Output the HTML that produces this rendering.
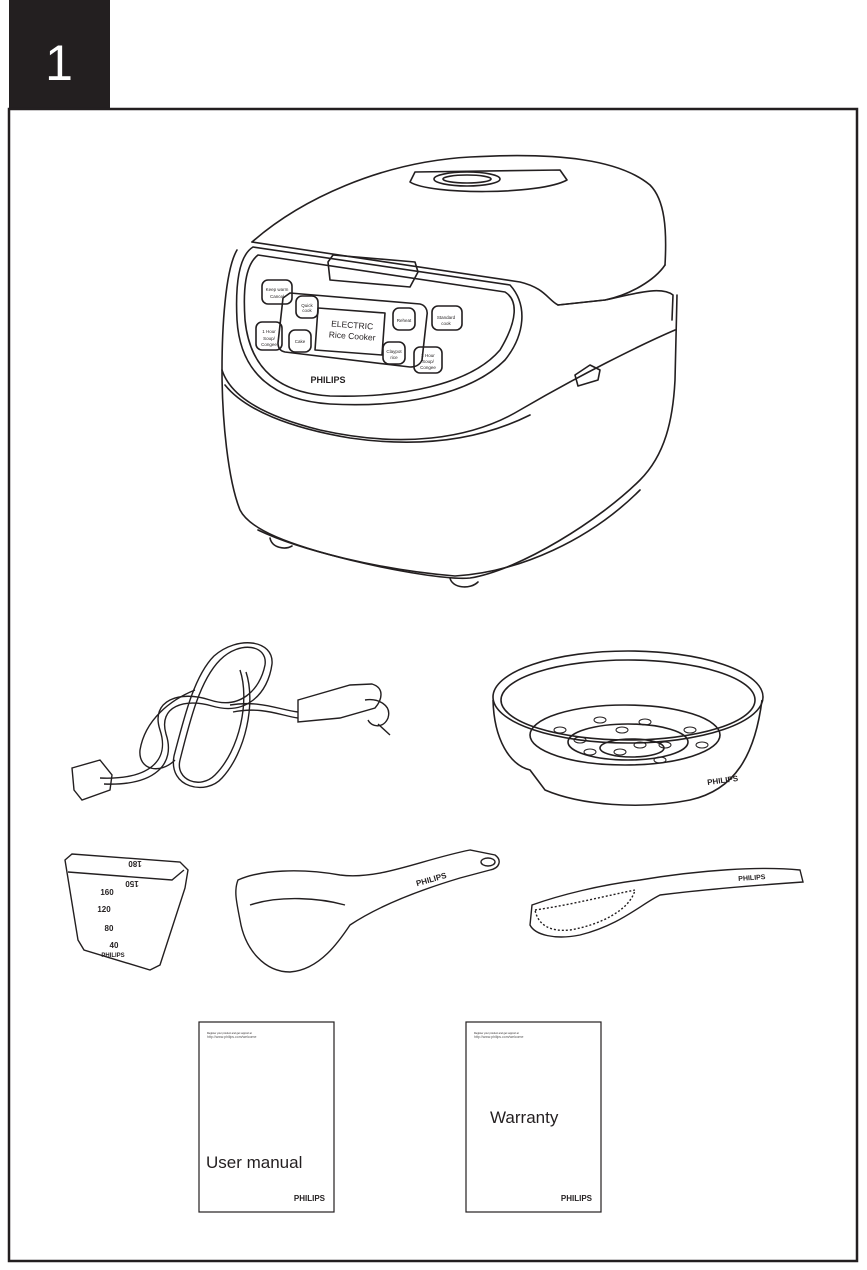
<!DOCTYPE html>
<html><head><meta charset="utf-8"><style>
html,body{margin:0;padding:0;background:#fff;}
body{width:867px;height:1270px;position:relative;overflow:hidden;font-family:"Liberation Sans",sans-serif;}
</style></head><body>
<svg width="867" height="1270" viewBox="0 0 867 1270" xmlns="http://www.w3.org/2000/svg" style="position:absolute;left:0;top:0">
<rect x="9" y="0" width="101" height="108" fill="#231f20"/>
<text x="59" y="80" font-size="50" fill="#fff" text-anchor="middle" font-family="Liberation Sans">1</text>
<rect x="9" y="109" width="848" height="1152" fill="none" stroke="#231f20" stroke-width="2.5"/>

<g fill="none" stroke="#231f20" stroke-width="1.6" stroke-linejoin="round" stroke-linecap="round">
<!-- cooker lid -->
<path d="M252,242 C300,200 380,162 470,157 C560,152 620,160 650,185 C665,200 667,230 665,265"/>
<path d="M252,242 L520,282 C545,288 548,300 558,305 L605,300 C630,295 655,280 665,265"/>
<path d="M410,182 L415,172 L560,170 L567,180 C540,195 430,195 410,182 Z"/>
<ellipse cx="467" cy="179" rx="33" ry="7"/>
<ellipse cx="467" cy="179" rx="24" ry="4"/>
<path d="M558,305 L605,300 C630,295 660,285 673,295 L672,320"/>
<!-- front panel -->
<path d="M253,247 C240,255 235,280 237,320 C240,370 270,400 330,404 C400,408 470,395 505,360 C525,335 528,305 510,285 L253,247"/>
<path d="M258,255 L505,292 C518,300 518,320 500,350 C470,385 400,398 330,396 C280,393 250,370 245,320 C243,290 245,265 258,255 Z"/>
<path d="M328,262 L333,255 L415,262 L418,272 L410,287 L330,280 Z"/>
<rect x="262" y="280" width="30" height="24" rx="6"/>
<rect x="256" y="322" width="26" height="28" rx="6"/>
<path d="M290,293 L420,304 C425,305 428,310 427,315 L422,360 C420,365 415,367 410,367 L285,352 C280,351 278,348 278,343 L283,298 Z"/>
<rect x="296" y="296" width="22" height="22" rx="6"/>
<rect x="289" y="330" width="22" height="22" rx="6"/>
<path d="M318,308 L385,313 L382,355 L315,350 Z"/>
<rect x="393" y="308" width="22" height="22" rx="6"/>
<rect x="383" y="342" width="22" height="22" rx="6"/>
<rect x="432" y="306" width="30" height="24" rx="6"/>
<rect x="414" y="347" width="28" height="26" rx="6"/>
<!-- body -->
<path d="M237,250 C225,270 222,330 222,370 C222,420 228,480 240,510 C250,530 290,545 350,560 C400,572 450,580 470,578 C520,570 600,520 640,480 C665,455 673,420 675,380 L677,295"/>
<path d="M222,370 C230,395 260,415 320,430 C400,448 470,440 520,410 C580,375 640,345 675,330"/>
<path d="M225,385 C245,410 290,428 350,438 C420,448 480,440 530,415"/>
<path d="M575,375 L590,365 L600,370 L598,380 L578,386 Z"/>
<path d="M270,538 C272,548 285,550 292,546"/>
<path d="M450,578 C452,588 470,590 478,582"/>
<path d="M258,530 C300,550 380,570 455,576 C520,572 590,540 640,490"/>
</g>
<g font-family="Liberation Sans" fill="#231f20" text-anchor="middle">
<text x="277" y="291" font-size="4.5">Keep warm</text><text x="277" y="298" font-size="4.5">Cancel</text>
<text x="269" y="333" font-size="4.5">1 Hour</text><text x="269" y="340" font-size="4.5">Soup/</text><text x="269" y="346" font-size="4.5">Congee</text>
<text x="307" y="307" font-size="4.5">Quick</text><text x="307" y="312" font-size="4.5">cook</text>
<text x="300" y="343" font-size="4.5">Cake</text>
<text x="352" y="328" font-size="8.5" transform="rotate(4 352 328)">ELECTRIC</text>
<text x="352" y="339" font-size="8.5" transform="rotate(4 352 339)">Rice Cooker</text>
<text x="404" y="322" font-size="4.5">Reheat</text>
<text x="446" y="319" font-size="4.5">Standard</text><text x="446" y="325" font-size="4.5">cook</text>
<text x="394" y="353" font-size="4.5">Claypot</text><text x="394" y="359" font-size="4.5">rice</text>
<text x="428" y="357" font-size="4.5">2 Hour</text><text x="428" y="363" font-size="4.5">Soup/</text><text x="428" y="369" font-size="4.5">Congee</text>
<text x="328" y="383" font-size="9" font-weight="bold">PHILIPS</text>
</g>

<!-- cord -->
<g fill="none" stroke="#231f20" stroke-width="1.4">
<path d="M100,778 C150,780 170,760 160,730 C150,700 180,690 210,700 C240,710 260,690 265,665 C268,645 240,640 220,660 C200,680 190,720 180,760 C175,780 200,790 215,775 C240,750 250,700 240,670"/>
<path d="M104,784 C155,786 176,764 166,734 C158,706 185,698 212,706 C246,716 268,694 272,664 C274,640 238,635 214,656 C194,676 184,718 174,756 C168,788 206,796 222,778 C246,752 256,702 246,672"/>
<path d="M195,690 C170,700 145,720 140,750 C138,770 160,775 175,760"/>
<path d="M230,705 C260,700 280,710 298,712"/>
<path d="M233,712 C262,706 282,716 298,718"/>
<path d="M298,700 L350,685 L372,684 C385,688 382,700 375,708 L340,718 L298,722 Z"/>
<path d="M365,700 C378,698 392,705 388,718 C384,728 372,728 368,720"/>
<path d="M378,724 L390,735"/>
<path d="M72,768 L100,760 L112,775 L110,790 L82,800 L74,790 Z"/>
</g>
<!-- steamer -->
<g fill="none" stroke="#231f20" stroke-width="1.6">
<ellipse cx="628" cy="697" rx="135" ry="46"/>
<ellipse cx="628" cy="700" rx="127" ry="40"/>
<path d="M493,700 C494,740 510,765 530,770 L545,790 C580,805 640,810 690,800 C735,790 755,755 762,700"/>
<ellipse cx="625" cy="735" rx="95" ry="30"/>
<ellipse cx="628" cy="742" rx="60" ry="18"/>
<ellipse cx="632" cy="748" rx="32" ry="9"/>
</g>
<g fill="none" stroke="#231f20" stroke-width="1">
<ellipse cx="560" cy="730" rx="6" ry="3"/><ellipse cx="580" cy="740" rx="6" ry="3"/><ellipse cx="600" cy="720" rx="6" ry="3"/>
<ellipse cx="622" cy="730" rx="6" ry="3"/><ellipse cx="645" cy="722" rx="6" ry="3"/><ellipse cx="665" cy="745" rx="6" ry="3"/>
<ellipse cx="690" cy="730" rx="6" ry="3"/><ellipse cx="702" cy="745" rx="6" ry="3"/><ellipse cx="620" cy="752" rx="6" ry="3"/>
<ellipse cx="640" cy="745" rx="6" ry="3"/><ellipse cx="660" cy="760" rx="6" ry="3"/><ellipse cx="590" cy="752" rx="6" ry="3"/>
</g>
<text x="723" y="783" font-size="8" font-weight="bold" fill="#231f20" transform="rotate(-8 723 783)" text-anchor="middle">PHILIPS</text>

<!-- measuring cup -->
<g fill="none" stroke="#231f20" stroke-width="1.4">
<path d="M65,860 L72,854 L180,862 L188,870 L185,888 L160,965 L150,970 L84,950 L78,940 Z"/>
<path d="M68,872 L172,880 L184,870"/>
</g>
<g fill="#231f20" font-size="8" font-weight="bold" text-anchor="middle">
<text x="135" y="867" transform="rotate(180 135 864)">180</text>
<text x="132" y="887" transform="rotate(180 132 884)">150</text>
<text x="107" y="895">160</text><text x="104" y="912">120</text><text x="109" y="931">80</text><text x="114" y="948">40</text>
<text x="113" y="957" font-size="6">PHILIPS</text>
</g>
<!-- ladle -->
<g fill="none" stroke="#231f20" stroke-width="1.4">
<path d="M238,880 C260,870 300,868 340,875 C380,880 420,860 470,850 L495,855 C502,860 500,868 490,870 L460,878 C420,890 380,905 350,925 C340,940 320,970 290,972 C265,972 245,950 240,920 C236,900 234,890 238,880 Z"/>
<path d="M250,905 C280,895 320,898 345,905"/>
<ellipse cx="488" cy="862" rx="7" ry="4"/>
</g>
<text x="432" y="882" font-size="8" font-weight="bold" fill="#231f20" transform="rotate(-16 432 882)" text-anchor="middle">PHILIPS</text>
<!-- spatula -->
<g fill="none" stroke="#231f20" stroke-width="1.4">
<path d="M532,905 C560,895 600,885 640,880 C700,870 760,866 800,870 L803,882 C760,885 700,890 660,895 C640,905 620,925 580,935 C555,940 535,935 530,925 Z"/>
<path d="M535,910 C570,905 610,895 635,890 C630,910 600,925 570,930 C550,932 538,925 535,910 Z" stroke-dasharray="2 2"/>
</g>
<text x="752" y="880" font-size="7" font-weight="bold" fill="#231f20" transform="rotate(-4 752 880)" text-anchor="middle">PHILIPS</text>

<!-- booklets -->
<rect x="199" y="1022" width="135" height="190" fill="none" stroke="#231f20" stroke-width="1.2"/>
<rect x="466" y="1022" width="135" height="190" fill="none" stroke="#231f20" stroke-width="1.2"/>
<g fill="#231f20">
<text x="207" y="1034" font-size="2.5">Register your product and get support at</text>
<text x="207" y="1038" font-size="3.5" fill="#555">http://www.philips.com/welcome</text>
<text x="206" y="1168" font-size="17">User manual</text>
<text x="325" y="1201" font-size="8" font-weight="bold" text-anchor="end">PHILIPS</text>
<text x="474" y="1034" font-size="2.5">Register your product and get support at</text>
<text x="474" y="1038" font-size="3.5" fill="#555">http://www.philips.com/welcome</text>
<text x="490" y="1123" font-size="17">Warranty</text>
<text x="592" y="1201" font-size="8" font-weight="bold" text-anchor="end">PHILIPS</text>
</g>
</svg>
</body></html>
